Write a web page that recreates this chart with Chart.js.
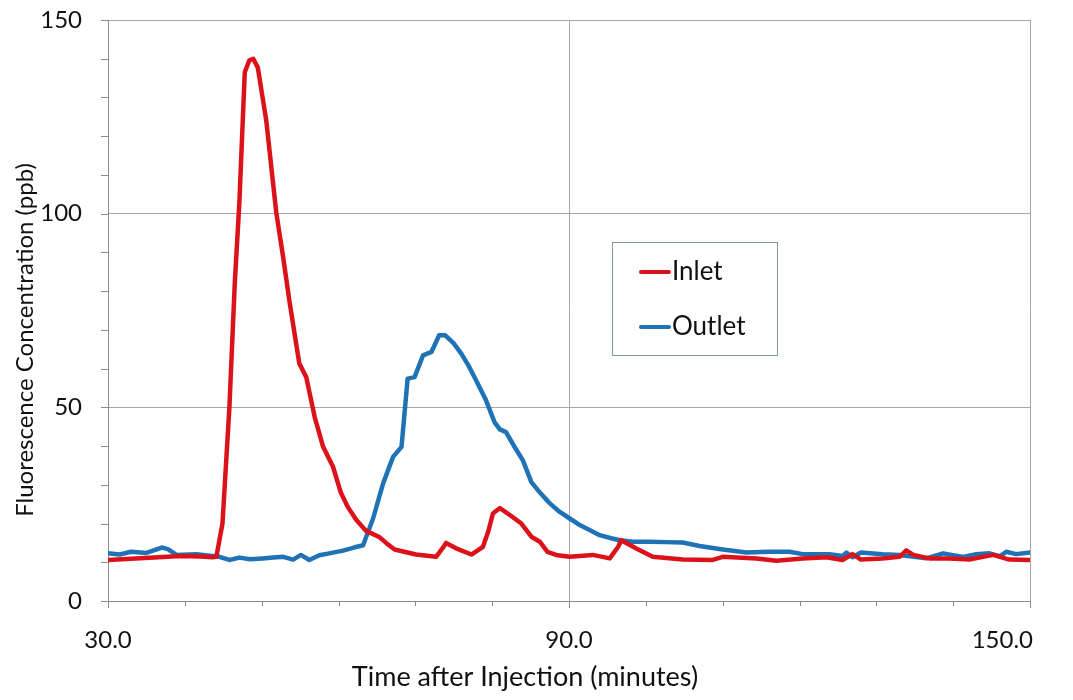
<!DOCTYPE html>
<html>
<head>
<meta charset="utf-8">
<script src="https://cdn.jsdelivr.net/npm/chart.js@4.4.0/dist/chart.umd.min.js"></script>
<style>
html,body{margin:0;padding:0;background:#fff;}
#wrap{width:1073px;height:700px;}
</style>
</head>
<body>
<div id="wrap"><canvas id="c" width="1073" height="700"></canvas></div>
<script>
const seriesNames = ["Inlet", "Outlet"];
const xTickLabels = ["30.0", "90.0", "150.0"];
const yTickLabels = ["0", "50", "100", "150"];
const xTitle = "Time after Injection (minutes)";
const yTitle = "Fluorescence Concentration (ppb)";

const inletTime = [30,33,36,39.5,42,43.6,44.1,44.9,45.8,46.5,47.1,47.8,48.4,48.9,49.5,50.6,51.9,52.8,53.6,54.9,55.8,56.9,58.0,59.3,60.3,61.2,62.3,63.6,65.3,66.2,67.3,70.1,72.7,73.5,74.0,75.3,77.3,78.8,79.5,80.1,81.0,82.3,83.8,85.1,86.2,87.2,88.5,90.1,93.1,95.3,96.4,96.8,98.7,100.9,104.8,108.7,110.0,114.4,117.0,120.4,123.5,125.6,126.9,128.0,130.8,133.0,133.9,134.8,136.9,139.5,142.1,145.2,147.3,150];
const inletValue = [10.6,10.9,11.2,11.6,11.5,11.3,11.4,20,50,82,103,136.5,139.6,140,137.7,124,100.3,88.7,77.6,61.3,57.8,47.5,39.8,34.6,28,24.3,21,18.1,16.5,15,13.3,12.0,11.4,13.5,15.0,13.6,12.0,14.0,18,22.6,24.0,22.2,20.0,16.6,15.3,12.7,11.8,11.4,11.9,11.0,14.0,15.7,13.6,11.4,10.7,10.6,11.4,11.0,10.4,11.0,11.3,10.6,12.1,10.7,11.0,11.4,13.1,11.9,11.0,11.0,10.7,11.9,10.7,10.6];

const outletTime = [30,31.5,33,35,37,37.8,38.9,41.5,43.6,44.5,45.8,47.1,48.5,50.1,51.5,52.8,54.1,55.1,56.2,57.5,58.8,60.6,62,63.2,64.5,65.8,67.1,68.2,69.0,69.9,71.0,72.1,73.1,73.9,75.0,76.0,77.0,77.9,79.2,80.3,81.0,81.8,83.0,84.0,85.1,86.3,87.5,88.8,90.1,91.4,92.8,94.0,95.5,96.6,98.3,100.5,102.5,104.8,107.0,110.0,113.1,116,118.7,120.4,123.9,125.6,126.1,126.9,128.0,130.8,133.0,136.5,138.7,141.3,143.0,144.7,146.1,146.9,148.2,150];
const outletValue = [12.3,12.0,12.7,12.4,13.8,13.4,11.9,12.1,11.6,11.4,10.6,11.2,10.8,11.0,11.2,11.4,10.7,11.9,10.6,11.8,12.3,13.0,13.8,14.4,21.3,30.3,37.2,39.8,57.4,57.8,63.4,64.3,68.6,68.6,66.5,63.8,60.5,57.0,51.8,46.2,44.3,43.6,39.5,36.3,30.7,27.8,25.2,23.0,21.3,19.6,18.2,17.0,16.2,15.7,15.3,15.3,15.2,15.1,14.2,13.3,12.5,12.7,12.7,12.1,12.1,11.6,12.5,11.3,12.5,12.1,11.9,11.0,12.3,11.4,12.1,12.3,11.6,12.7,12.1,12.5];

const seriesColors = ["#dc121b", "#1f72b6"];
const FONT = "Lato, 'Open Sans', sans-serif";
const TEXT = "#111111";

function pts(t, v){ return t.map((x,i)=>({x:x, y:v[i]})); }

const decor = {
  id: 'decor',
  afterDraw(chart){
    const ctx = chart.ctx;
    const xs = chart.scales.x, ys = chart.scales.y;
    const ca = chart.chartArea;
    ctx.save();
    ctx.strokeStyle = '#8c8c8c';
    ctx.lineWidth = 1;
    for(let v=30; v<=150; v+=10){
      const px = Math.round(xs.getPixelForValue(v))+0.5;
      const major = (v-30)%60===0;
      ctx.beginPath(); ctx.moveTo(px, ca.bottom); ctx.lineTo(px, ca.bottom + (major?7:5)); ctx.stroke();
    }
    for(let v=0; v<=150; v+=10){
      const py = Math.round(ys.getPixelForValue(v))+0.5;
      ctx.beginPath(); ctx.moveTo(ca.left-7, py); ctx.lineTo(ca.left, py); ctx.stroke();
    }
    ctx.fillStyle = TEXT;
    ctx.font = "24px " + FONT;
    ctx.textBaseline = 'middle';
    const xv = [30, 90, 150];
    xv.forEach((v,i)=>{
      const px = xs.getPixelForValue(v);
      ctx.textAlign = i===2 ? 'right' : 'center';
      ctx.fillText(xTickLabels[i], i===2 ? px+3 : px, 640);
    });
    ctx.font = "27px " + FONT;
    ctx.textAlign = 'center';
    ctx.fillText(xTitle, 525, 677);
    ctx.save();
    ctx.font = "24px " + FONT;
    ctx.translate(25, 340);
    ctx.rotate(-Math.PI/2);
    ctx.fillText(yTitle, 0, 0);
    ctx.restore();
    ctx.fillStyle = '#ffffff';
    ctx.fillRect(612, 242, 165, 113);
    ctx.strokeStyle = '#7f97a8';
    ctx.lineWidth = 1;
    ctx.strokeRect(612.5, 242.5, 165, 113);
    const ly = [272, 327];
    chart.data.datasets.forEach((ds, i)=>{
      ctx.strokeStyle = ds.borderColor;
      ctx.lineWidth = 4;
      ctx.lineCap = 'round';
      ctx.beginPath(); ctx.moveTo(641, ly[i]); ctx.lineTo(669, ly[i]); ctx.stroke();
      ctx.fillStyle = TEXT;
      ctx.font = "26px " + FONT;
      ctx.textAlign = 'left';
      ctx.fillText(ds.label, 672, ly[i]);
    });
    ctx.restore();
  }
};

new Chart(document.getElementById('c'), {
  type: 'line',
  data: {
    datasets: [
      { label: seriesNames[0], data: pts(inletTime, inletValue), borderColor: seriesColors[0], borderWidth: 4.5, pointRadius: 0, tension: 0, fill: false, borderJoinStyle: 'round', borderCapStyle: 'round' },
      { label: seriesNames[1], data: pts(outletTime, outletValue), borderColor: seriesColors[1], borderWidth: 4.5, pointRadius: 0, tension: 0, fill: false, borderJoinStyle: 'round', borderCapStyle: 'round' }
    ]
  },
  options: {
    responsive: false,
    animation: false,
    layout: { padding: { left: 0, right: 43, top: 20, bottom: 0 } },
    plugins: { legend: { display: false }, tooltip: { enabled: false } },
    scales: {
      x: {
        type: 'linear', min: 30, max: 150,
        ticks: { stepSize: 60, display: false },
        grid: { color: '#a6a6a6', drawTicks: false, lineWidth: 1 },
        border: { display: true, color: '#8c8c8c', width: 1 },
        afterFit(s){ s.height = 99; s.paddingLeft = 0; s.paddingRight = 0; }
      },
      y: {
        type: 'linear', min: 0, max: 150,
        ticks: { stepSize: 50, padding: 26, color: TEXT, font: { size: 24, family: FONT },
                 callback: (v)=> yTickLabels[yTickLabels.indexOf(String(v))] ?? '' },
        grid: { color: '#a6a6a6', drawTicks: false, lineWidth: 1 },
        border: { display: true, color: '#8c8c8c', width: 1 },
        afterFit(s){ s.width = 108; s.paddingTop = 0; s.paddingBottom = 0; }
      }
    }
  },
  plugins: [decor]
});
</script>
</body>
</html>
